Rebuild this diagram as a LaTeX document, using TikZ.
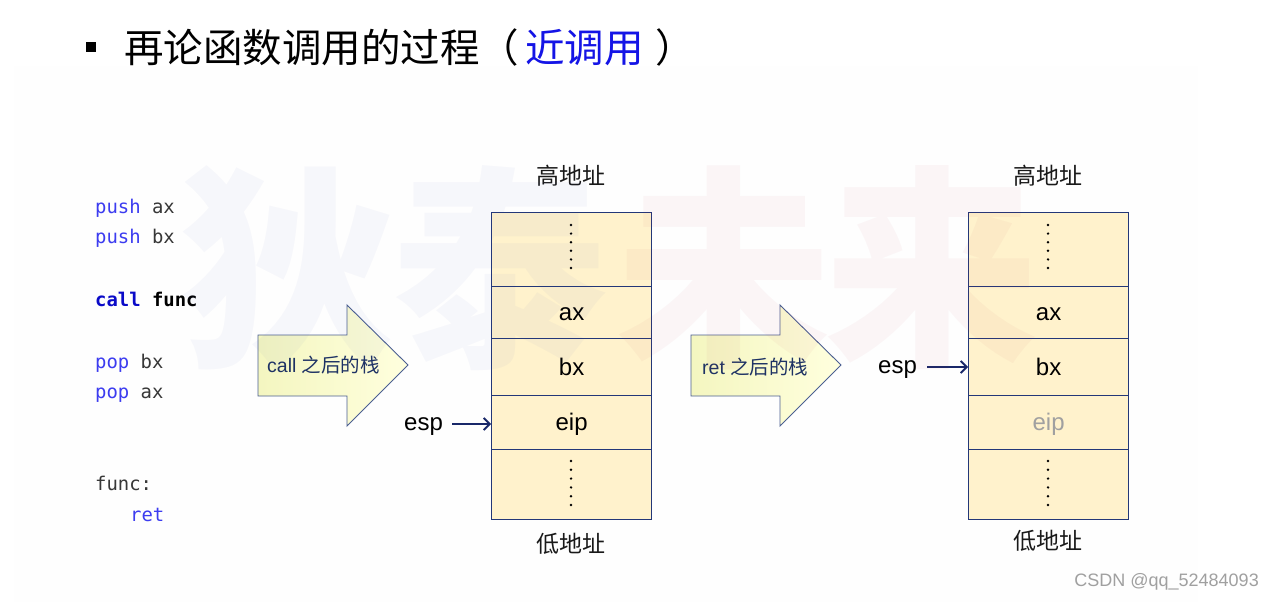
\documentclass[tikz,border=0pt]{standalone}
\usepackage{fontspec}
\setmainfont{Liberation Sans}
\setmonofont{DejaVu Sans Mono}
\newfontfamily\cjk{Noto Sans CJK SC}
\usetikzlibrary{arrows.meta}
\definecolor{kwblue}{RGB}{60,60,240}
\definecolor{callblue}{RGB}{10,10,200}
\definecolor{codegray}{RGB}{55,55,55}
\definecolor{titleblue}{RGB}{20,20,230}
\definecolor{stackfill}{RGB}{255,242,204}
\definecolor{stackborder}{RGB}{35,55,120}
\definecolor{arrborder}{RGB}{75,95,145}
\definecolor{arrtext}{RGB}{30,50,100}
\definecolor{espcol}{RGB}{25,40,105}
\definecolor{wmblue}{RGB}{60,80,180}
\definecolor{wmpink}{RGB}{190,40,70}
\definecolor{paneback}{RGB}{254,254,254}
\definecolor{csdngray}{RGB}{160,160,160}
\definecolor{eipgray}{RGB}{160,160,160}
\begin{document}
\begin{tikzpicture}[x=1pt,y=-1pt,
  cell/.style={draw=stackborder, fill=stackfill, line width=1.3pt, minimum width=160pt,
    inner sep=0pt, anchor=north west, text height=16pt, text depth=0pt, font=\fontsize{24}{28}\selectfont},
  addr/.style={inner sep=0pt, font=\cjk\fontsize{23}{26}\selectfont, text=black!90},
  code/.style={inner sep=0pt, anchor=base west, font=\ttfamily\fontsize{18.9}{22}\selectfont, text=codegray},
  bigarr/.style={draw=arrborder, line width=0.9pt, left color={rgb,255:red,244;green,246;blue,192}, right color={rgb,255:red,255;green,255;blue,222}, shading angle=90},
  arrlabel/.style={inner sep=0pt, anchor=west, text=arrtext, font=\fontsize{19.5}{22}\selectfont},
  esplabel/.style={inner sep=0pt, text depth=0pt, font=\fontsize{24}{28}\selectfont},
  espar/.style={draw=espcol, line width=1.8pt, -{Straight Barb[length=6pt,width=12pt]}},
  dotpt/.style={fill=black},
  wm/.style={inner sep=0pt, font=\cjk\bfseries\fontsize{215}{215}\selectfont}
]
\useasboundingbox (0,0) rectangle (1273,602);
\fill[white] (0,0) rectangle (1273,602);
\fill[paneback] (14,66) rectangle (1198,602);

% title
\node[fill=black, minimum size=10pt, inner sep=0pt] (bullet) at (90.5,47) {};
\node[inner sep=0pt, anchor=west, font=\cjk\fontsize{39.5}{42}\selectfont] (title) at (124,47)
  {再论函数调用的过程（\hspace{6pt}\textcolor{titleblue}{近调用}\hspace{12pt}）};

% code
\node[code] (c1) at (95,213) {\textcolor{kwblue}{push} ax};
\node[code] (c2) at (95,243) {\textcolor{kwblue}{push} bx};
\node[code] (c3) at (95,306) {\textbf{\textcolor{callblue}{call} \textcolor{black}{func}}};
\node[code] (c4) at (95,368) {\textcolor{kwblue}{pop} bx};
\node[code] (c5) at (95,398) {\textcolor{kwblue}{pop} ax};
\node[code] (c6) at (95,490) {func:};
\node[code] (c7) at (130,521) {\textcolor{kwblue}{ret}};

% arrow 1
\draw[bigarr] (258,335) -- (347,335) -- (347,305) -- (408,365) -- (347,426) -- (347,396) -- (258,396) -- cycle;
\node[arrlabel] (callarr) at (267,365) {call {\cjk 之后的栈}};

% arrow 2
\draw[bigarr] (691,335) -- (780,335) -- (780,305) -- (841,365) -- (780,426) -- (780,396) -- (691,396) -- cycle;
\node[arrlabel] (retarr) at (702,367) {ret {\cjk 之后的栈}};

% stack 1
\node[cell, minimum height=74pt] (s1a) at (491,212) {};
\node[cell, minimum height=52pt] (s1ax) at (491,286) {ax};
\node[cell, minimum height=57pt] (s1bx) at (491,338) {bx};
\node[cell, minimum height=54pt] (s1eip) at (491,395) {eip};
\node[cell, minimum height=70pt] (s1b) at (491,449) {};
\foreach \i in {0,...,5} {
  \fill[dotpt] (571,{225+8.6*\i}) circle (1.35pt);
  \fill[dotpt] (571,{461+8.8*\i}) circle (1.35pt);
}
\node[addr] (s1hi) at (571,176) {高地址};
\node[addr] (s1lo) at (571,544) {低地址};
\node[esplabel, anchor=west] (esp1) at (404,424) {esp};
\draw[espar] ([xshift=9pt]esp1.east) -- (esp1.east -| s1eip.west);

% stack 2
\node[cell, minimum height=74pt] (s2a) at (968,212) {};
\node[cell, minimum height=52pt] (s2ax) at (968,286) {ax};
\node[cell, minimum height=57pt] (s2bx) at (968,338) {bx};
\node[cell, minimum height=54pt, text=eipgray] (s2eip) at (968,395) {eip};
\node[cell, minimum height=70pt] (s2b) at (968,449) {};
\foreach \i in {0,...,5} {
  \fill[dotpt] (1048,{225+8.6*\i}) circle (1.35pt);
  \fill[dotpt] (1048,{461+8.8*\i}) circle (1.35pt);
}
\node[addr] (s2hi) at (1048,176) {高地址};
\node[addr] (s2lo) at (1048,541) {低地址};
\node[esplabel, anchor=west] (esp2) at (878,367) {esp};
\draw[espar] ([xshift=10pt]esp2.east) -- (esp2.east -| s2bx.west);

% watermark
\node[wm, text=wmblue, text opacity=0.04] (wm1) at (288,268) {狄};
\node[wm, text=wmblue, text opacity=0.04] (wm2) at (500,268) {泰};
\node[wm, text=wmpink, text opacity=0.04] (wm3) at (724,268) {未};
\node[wm, text=wmpink, text opacity=0.04] (wm4) at (932,268) {来};

% credit
\node[inner sep=0pt, anchor=east, text=csdngray, font=\fontsize{18}{20}\selectfont] (csdn) at (1259,582) {CSDN @qq\_52484093};
\end{tikzpicture}
\end{document}
